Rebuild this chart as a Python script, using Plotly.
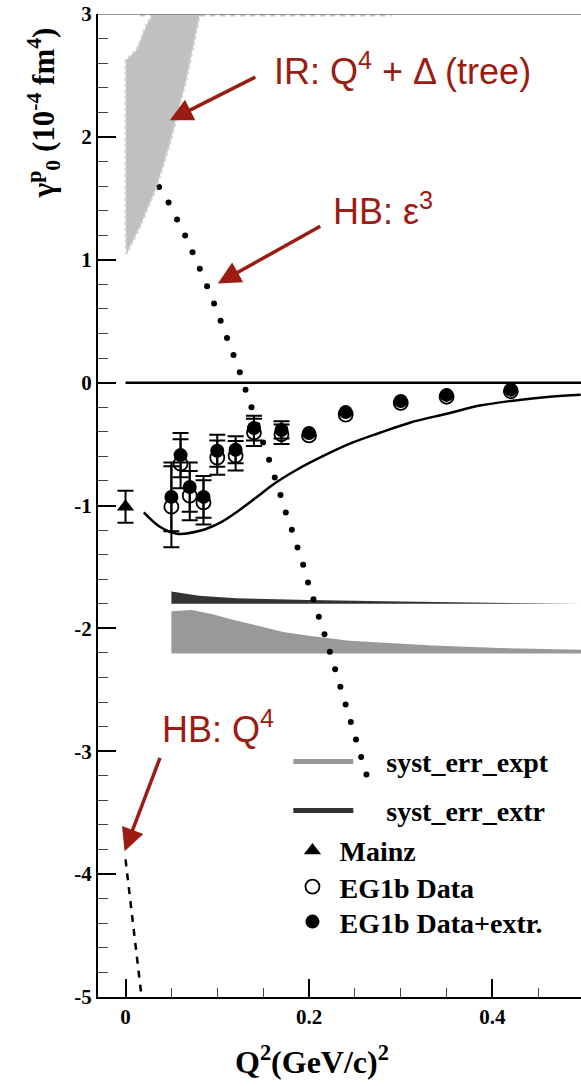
import plotly.graph_objects as go

# ---------------- data ----------------
# Mainz point
mainz_x = [0.0]
mainz_y = [-1.01]
mainz_err = [0.13]

# EG1b data
q2 = [0.05, 0.06, 0.07, 0.085, 0.10, 0.12, 0.14, 0.17, 0.20, 0.24, 0.30, 0.35, 0.42]
eg1b_y = [-1.01, -0.66, -0.92, -0.975, -0.61, -0.595, -0.405, -0.42, -0.43, -0.26, -0.165, -0.115, -0.07]
eg1b_err = [0.33, 0.20, 0.20, 0.18, 0.14, 0.12, 0.11, 0.08, 0.0, 0.0, 0.0, 0.0, 0.0]
eg1b_extr_y = [-0.93, -0.59, -0.85, -0.93, -0.555, -0.546, -0.37, -0.385, -0.41, -0.24, -0.15, -0.10, -0.057]
eg1b_extr_err = [0.28, 0.18, 0.20, 0.17, 0.13, 0.11, 0.10, 0.07, 0.0, 0.0, 0.0, 0.0, 0.0]
n_err = 8  # points with visible error bars

# solid theory curve
maid_x = [0.0199, 0.0374, 0.0560, 0.0810, 0.1028, 0.1246, 0.1464, 0.1605, 0.1867, 0.2118,
          0.2445, 0.2772, 0.3099, 0.3502, 0.3862, 0.4222, 0.4625, 0.4962]
maid_y = [-1.056, -1.173, -1.230, -1.206, -1.141, -1.035, -0.913, -0.831, -0.709, -0.611,
          -0.497, -0.408, -0.326, -0.253, -0.187, -0.147, -0.114, -0.098]

# HB eps^3 (dotted)
hb_eps_x = [0.0366, 0.0469, 0.0562, 0.0650, 0.0730, 0.0810, 0.0889, 0.0965, 0.1037, 0.1106,
            0.1177, 0.1246, 0.1308, 0.1373, 0.1437, 0.1500, 0.1565, 0.1627, 0.1689, 0.1747,
            0.1813, 0.1875, 0.1936, 0.1990, 0.2049, 0.2107, 0.2169, 0.2227, 0.2285, 0.2342,
            0.2399, 0.2456, 0.2512, 0.2569, 0.2626]
hb_eps_y = [1.592, 1.465, 1.328, 1.198, 1.062, 0.927, 0.785, 0.644, 0.503, 0.363,
            0.224, 0.084, -0.057, -0.201, -0.344, -0.487, -0.628, -0.772, -0.915, -1.057,
            -1.198, -1.342, -1.483, -1.627, -1.763, -1.905, -2.048, -2.190, -2.333, -2.476,
            -2.619, -2.761, -2.904, -3.046, -3.189]

# HB Q^4 (dashed)
hb_q4_x = [0.0, 0.0175]
hb_q4_y = [-3.88, -5.0]

# IR Q^4 + Delta (tree) region
ir_x = [0.0298, 0.0229, 0.012, 0.0003, 0.0003, 0.001, 0.0156, 0.0338, 0.0483, 0.0665, 0.081]
ir_y = [3.0, 2.91, 2.706, 2.624, 1.20, 1.049, 1.266, 1.592, 1.945, 2.475, 3.0]
ir_top_x = [0.016, 0.29]
ir_top_y = [3.0, 3.0]

# zero line
zero_x = [0.0, 0.5]
zero_y = [0.0, 0.0]

# systematic error bands
extr_band_x = [0.05, 0.08, 0.12, 0.20, 0.30, 0.40, 0.50]
extr_band_top = [-1.70, -1.735, -1.755, -1.77, -1.782, -1.79, -1.797]
extr_band_base = -1.80
expt_band_x = [0.05, 0.072, 0.095, 0.117, 0.14, 0.172, 0.20, 0.244, 0.335, 0.408, 0.50]
expt_band_top = [-1.86, -1.85, -1.885, -1.93, -1.97, -2.03, -2.06, -2.10, -2.14, -2.16, -2.175]
expt_band_base = -2.205

y_ticks = [-5, -4, -3, -2, -1, 0, 1, 2, 3]
y_ticktext = ["-5", "-4", "-3", "-2", "-1", "0", "1", "2", "3"]
x_ticks = [0, 0.2, 0.4]
x_ticktext = ["0", "0.2", "0.4"]

# ---------------- figure ----------------
SERIF = "Liberation Serif"
RED = "#9b1c12"
NB = "\u00a0"

fig = go.Figure()

# bands
fig.add_trace(go.Scatter(
    x=expt_band_x + expt_band_x[::-1],
    y=expt_band_top + [expt_band_base] * len(expt_band_x),
    fill="toself", fillcolor="#999999", mode="lines", line=dict(width=0),
    showlegend=False, hoverinfo="skip"))
fig.add_trace(go.Scatter(
    x=extr_band_x + extr_band_x[::-1],
    y=extr_band_top + [extr_band_base] * len(extr_band_x),
    fill="toself", fillcolor="#333333", mode="lines", line=dict(width=0),
    showlegend=False, hoverinfo="skip"))

# zero line
fig.add_trace(go.Scatter(x=zero_x, y=zero_y, mode="lines",
                         line=dict(color="black", width=2.5), showlegend=False))

# HB eps^3 dotted
fig.add_trace(go.Scatter(x=hb_eps_x, y=hb_eps_y, mode="markers",
                         marker=dict(color="black", size=6), showlegend=False))

# IR region
fig.add_trace(go.Scatter(x=ir_x, y=ir_y, fill="toself", fillcolor="#c0c0c0", mode="lines",
                         line=dict(color="#d0d0d0", width=2.5, dash="dot"), showlegend=False))
fig.add_trace(go.Scatter(x=ir_top_x, y=ir_top_y, mode="lines",
                         line=dict(color="#c4c4c4", width=5, dash="dot"), showlegend=False))

# HB Q^4 dashed
fig.add_trace(go.Scatter(x=hb_q4_x, y=hb_q4_y, mode="lines",
                         line=dict(color="black", width=2.5, dash="7px,7px"), showlegend=False))

# solid curve
fig.add_trace(go.Scatter(x=maid_x, y=maid_y, mode="lines", line_shape="spline",
                         line=dict(color="black", width=2.5), showlegend=False))

# error bars
eb = dict(type="data", visible=True, color="black", thickness=2, width=8)
fig.add_trace(go.Scatter(x=mainz_x, y=mainz_y, mode="markers",
                         marker=dict(size=1, color="rgba(0,0,0,0)"),
                         error_y=dict(array=mainz_err, **eb), showlegend=False))
fig.add_trace(go.Scatter(x=q2[:n_err], y=eg1b_y[:n_err], mode="markers",
                         marker=dict(size=1, color="rgba(0,0,0,0)"),
                         error_y=dict(array=eg1b_err[:n_err], **eb), showlegend=False))
fig.add_trace(go.Scatter(x=q2[:n_err], y=eg1b_extr_y[:n_err], mode="markers",
                         marker=dict(size=1, color="rgba(0,0,0,0)"),
                         error_y=dict(array=eg1b_extr_err[:n_err], **eb), showlegend=False))

# legend line entries
fig.add_trace(go.Scatter(x=[None], y=[None], mode="lines", name=NB * 4 + "syst_err_expt",
                         line=dict(color="#999999", width=5), legend="legend"))
fig.add_trace(go.Scatter(x=[None], y=[None], mode="lines", name=NB * 4 + "syst_err_extr",
                         line=dict(color="#333333", width=5), legend="legend2"))

# markers
fig.add_trace(go.Scatter(x=mainz_x, y=mainz_y, mode="markers", name=NB + "Mainz",
                         marker=dict(symbol="triangle-up", size=15, color="black"),
                         legend="legend3"))
fig.add_trace(go.Scatter(x=q2, y=eg1b_y, mode="markers", name=NB + "EG1b Data",
                         marker=dict(symbol="circle-open", size=14, color="black",
                                     line=dict(width=1.8)),
                         legend="legend4"))
fig.add_trace(go.Scatter(x=q2, y=eg1b_extr_y, mode="markers", name=NB + "EG1b Data+extr.",
                         marker=dict(symbol="circle", size=14, color="black"),
                         legend="legend5"))

# annotations: labels
lab_font = dict(family="Liberation Sans", size=36, color=RED)
fig.add_annotation(x=0.1600, y=2.55, text="IR: Q<sup>4</sup> + Δ (tree)", showarrow=False,
                   xanchor="left", yanchor="middle", font=lab_font)
fig.add_annotation(x=0.224, y=1.41, text="HB: ε<sup>3</sup>", showarrow=False,
                   xanchor="left", yanchor="middle", font=lab_font)
fig.add_annotation(x=0.0374, y=-2.80, text="HB: Q<sup>4</sup>", showarrow=False,
                   xanchor="left", yanchor="middle", font=lab_font)

# arrows
arr = dict(showarrow=True, arrowhead=2, arrowsize=1.3, arrowwidth=3.5, arrowcolor=RED, text="")
fig.add_annotation(x=0.0483, y=2.135, ax=87, ay=-44, **arr)
fig.add_annotation(x=0.1006, y=0.807, ax=104, ay=-58, **arr)
fig.add_annotation(x=-0.001, y=-3.814, ax=36, ay=-95, **arr)

# axis titles as annotations
fig.add_annotation(xref="paper", yref="paper", x=-0.112, y=0.900, textangle=-90,
                   text="<b>γ<sup>p</sup><sub>0</sub> (10<sup>-4</sup> fm<sup>4</sup>)</b>",
                   showarrow=False, xanchor="center", yanchor="middle",
                   font=dict(family=SERIF, size=31, color="black"))
fig.add_annotation(xref="paper", yref="paper", x=(312 - 98) / 483, y=-0.064,
                   text="<b>Q<sup>2</sup>(GeV/c)<sup>2</sup></b>",
                   showarrow=False, xanchor="center", yanchor="middle",
                   font=dict(family=SERIF, size=32, color="black"))

# top border
fig.add_shape(type="line", xref="paper", yref="y", x0=0, x1=1, y0=3, y1=3,
              line=dict(color="#777777", width=1.5))

tick_font = dict(family=SERIF, size=21, color="black", weight="bold")
leg_font = dict(family=SERIF, size=28, color="black", weight="bold")


def leg(ypix, xp):
    return dict(x=xp, y=1 - (ypix - 14) / 982, xanchor="left", yanchor="middle",
                bgcolor="rgba(0,0,0,0)", font=leg_font, itemwidth=60)


fig.update_layout(
    width=581, height=1086,
    margin=dict(l=98, r=0, t=14, b=89),
    plot_bgcolor="white", paper_bgcolor="white",
    xaxis=dict(range=[-0.03, 0.4965], showgrid=False, zeroline=False,
               showline=True, linecolor="black", linewidth=2,
               tickmode="array", tickvals=x_ticks, ticktext=x_ticktext,
               ticks="inside", ticklen=18, tickwidth=1.5, tickcolor="black",
               tickfont=tick_font, ticklabeloverflow="allow",
               minor=dict(ticks="inside", ticklen=9, tickwidth=1.2, tickcolor="#444444",
                          dtick=0.05, tick0=0, showgrid=False)),
    yaxis=dict(range=[-5, 3], showgrid=False, zeroline=False,
               showline=True, linecolor="black", linewidth=2,
               tickmode="array", tickvals=y_ticks, ticktext=y_ticktext,
               ticks="inside", ticklen=18, tickwidth=1.5, tickcolor="black",
               tickfont=tick_font, ticklabeloverflow="allow",
               minor=dict(ticks="inside", ticklen=10, tickwidth=1.2, tickcolor="#444444",
                          dtick=0.2, tick0=0, showgrid=False)),
    legend=leg(761, 0.394),
    legend2=leg(810, 0.394),
    legend3=dict(leg(850, 0.4026), itemwidth=30),
    legend4=dict(leg(886, 0.4026), itemwidth=30),
    legend5=dict(leg(921, 0.4026), itemwidth=30),
)

fig.write_html("out.html", config={"displayModeBar": False},
               post_script="document.body.style.margin='0';document.body.style.padding='0';")
